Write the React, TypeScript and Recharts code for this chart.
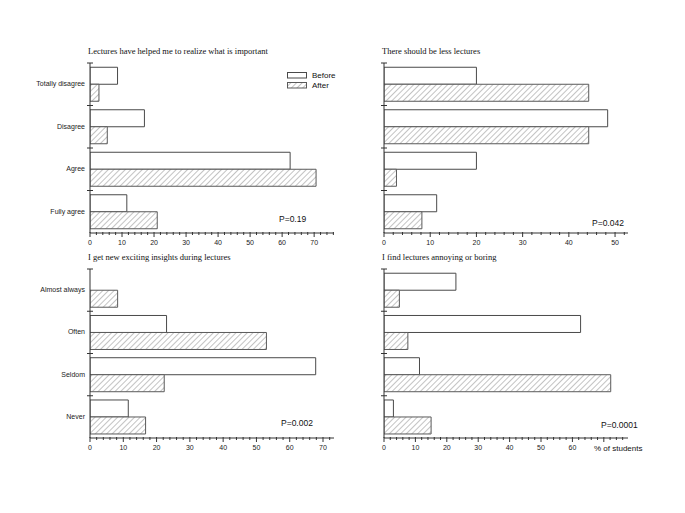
import React from 'react';
import { BarChart, Bar, XAxis, YAxis } from 'recharts';

// survey answers, % of students, before / after
const helpedCategories = ['Totally disagree', 'Disagree', 'Agree', 'Fully agree'];
const helpedBefore = [8.6, 17, 62.5, 11.5];
const helpedAfter = [2.8, 5.4, 70.6, 21];

const lessCategories = ['Totally disagree', 'Disagree', 'Agree', 'Fully agree'];
const lessBefore = [20, 48.4, 20, 11.4];
const lessAfter = [44.3, 44.3, 2.7, 8.2];

const insightCategories = ['Almost always', 'Often', 'Seldom', 'Never'];
const insightBefore = [0, 23, 67.8, 11.5];
const insightAfter = [8.3, 53, 22.3, 16.7];

const boringCategories = ['Almost always', 'Often', 'Seldom', 'Never'];
const boringBefore = [22.9, 62.6, 11.3, 3];
const boringAfter = [4.9, 7.6, 72.2, 15];

const labels70 = [0, 10, 20, 30, 40, 50, 60, 70];
const labels60 = [0, 10, 20, 30, 40, 50, 60];
const labels50 = [0, 10, 20, 30, 40, 50];

const AXIS = '#333';
const SANS = '"Liberation Sans", Arial, sans-serif';
const SERIF = '"Liberation Serif", "Times New Roman", serif';

const minorTicks = (max: number) => Array.from({ length: Math.floor(max / 2) + 1 }, (_, i) => i * 2);

const YTick = (props: any) => {
  const { x, y, payload, showLabel } = props;
  const half = payload.offset || 21.25;
  return (
    <g>
      <line x1={x - 3} x2={x + 3} y1={y - half} y2={y - half} stroke={AXIS} />
      {showLabel && (
        <text x={x - 5} y={y + 2} textAnchor="end" fontSize={7} fontFamily={SANS} fill="#222">
          {payload.value}
        </text>
      )}
    </g>
  );
};

const XTick = (props: any) => {
  const { x, y, payload, labels } = props;
  const v = payload.value;
  const major = v % 10 === 0;
  return (
    <g>
      <line x1={x} x2={x} y1={y - 1} y2={y + (major ? 4 : 2)} stroke={AXIS} />
      {labels.includes(v) && (
        <text x={x} y={y + 12} textAnchor="middle" fontSize={7} fontFamily={SANS} fill="#222">
          {v}
        </text>
      )}
    </g>
  );
};

interface PanelProps {
  id: string;
  left: number;
  top: number;
  height: number;
  title: string;
  categories: string[];
  before: number[];
  after: number[];
  xMax: number;
  labels: number[];
  showCategories: boolean;
  pValue: string;
  pX: number;
  pY: number;
  legend?: boolean;
  unit?: boolean;
}

const Panel = ({ id, left, top, height, title, categories, before, after, xMax, labels, showCategories, pValue, pX, pY, legend, unit }: PanelProps) => {
  const data = categories.map((c, i) => ({ name: c, before: before[i], after: after[i] }));
  return (
    <div style={{ position: 'absolute', left, top, width: 342, height }}>
      <div style={{ position: 'absolute', left: 88, top: 46, fontFamily: SERIF, fontSize: 8.5, lineHeight: '10px', color: '#111', whiteSpace: 'nowrap' }}>
        {title}
      </div>
      <BarChart
        width={342}
        height={height}
        data={data}
        layout="vertical"
        margin={{ top: 63, right: 8, bottom: 0, left: 0 }}
        barCategoryGap="10%"
        barGap={0}
      >
        <defs>
          <pattern id={`hatch-${id}`} patternUnits="userSpaceOnUse" width={4} height={4} patternTransform="rotate(45)">
            <rect width={4} height={4} fill="#fff" />
            <line x1={0} y1={0} x2={0} y2={4} stroke="#9a9a9a" strokeWidth={1.2} />
          </pattern>
        </defs>
        <XAxis
          type="number"
          domain={[0, xMax]}
          ticks={minorTicks(xMax)}
          interval={0}
          height={23}
          tickSize={0}
          tickMargin={0}
          tickLine={false}
          axisLine={{ stroke: AXIS }}
          allowDataOverflow
          tick={(p: any) => <XTick {...p} labels={labels} />}
        />
        <YAxis
          type="category"
          dataKey="name"
          width={90}
          tickSize={0}
          tickMargin={0}
          tickLine={false}
          interval={0}
          axisLine={{ stroke: AXIS }}
          tick={(p: any) => <YTick {...p} showLabel={showCategories} />}
        />
        <Bar dataKey="before" fill="#fff" stroke="#4a4a4a" strokeWidth={1} isAnimationActive={false} />
        <Bar dataKey="after" fill={`url(#hatch-${id})`} stroke="#5a5a5a" strokeWidth={1} isAnimationActive={false} />
      </BarChart>
      <div style={{ position: 'absolute', left: pX, top: pY - 5, fontFamily: SANS, fontSize: 8.5, lineHeight: '10px', color: '#111', whiteSpace: 'nowrap' }}>
        {pValue}
      </div>
      {legend && (
        <svg style={{ position: 'absolute', left: 286, top: 70 }} width={56} height={20}>
          <defs>
            <pattern id="hatch-legend" patternUnits="userSpaceOnUse" width={4} height={4} patternTransform="rotate(45)">
              <rect width={4} height={4} fill="#fff" />
              <line x1={0} y1={0} x2={0} y2={4} stroke="#9a9a9a" strokeWidth={1.2} />
            </pattern>
          </defs>
          <rect x={1.5} y={2.5} width={19} height={5.5} fill="#fff" stroke="#4a4a4a" />
          <rect x={1.5} y={12.5} width={19} height={5.5} fill="url(#hatch-legend)" stroke="#5a5a5a" />
          <text x={26} y={8} fontSize={8} fontFamily={SANS} fill="#111">Before</text>
          <text x={26} y={18} fontSize={8} fontFamily={SANS} fill="#111">After</text>
        </svg>
      )}
      {unit && (
        <div style={{ position: 'absolute', left: 300, top: height - 17, fontFamily: SANS, fontSize: 8, lineHeight: '10px', color: '#111', whiteSpace: 'nowrap' }}>
          % of students
        </div>
      )}
    </div>
  );
};

export default function App() {
  return (
    <div style={{ position: 'fixed', left: 0, top: 0, width: 685, height: 513, background: '#fff' }}>
      <Panel
        id="helped" left={0} top={0} height={256}
        title="Lectures have helped me to realize what is important"
        categories={helpedCategories} before={helpedBefore} after={helpedAfter}
        xMax={76.2} labels={labels70} showCategories
        pValue="P=0.19" pX={279} pY={219} legend
      />
      <Panel
        id="less" left={294} top={0} height={256}
        title="There should be less lectures"
        categories={lessCategories} before={lessBefore} after={lessAfter}
        xMax={52.8} labels={labels50} showCategories={false}
        pValue="P=0.042" pX={298} pY={223}
      />
      <Panel
        id="insight" left={0} top={206} height={255}
        title="I get new exciting insights during lectures"
        categories={insightCategories} before={insightBefore} after={insightAfter}
        xMax={73.3} labels={labels70} showCategories
        pValue="P=0.002" pX={281} pY={217}
      />
      <Panel
        id="boring" left={294} top={206} height={255}
        title="I find lectures annoying or boring"
        categories={boringCategories} before={boringBefore} after={boringAfter}
        xMax={77.7} labels={labels60} showCategories={false}
        pValue="P=0.0001" pX={307} pY={219} unit
      />
    </div>
  );
}
